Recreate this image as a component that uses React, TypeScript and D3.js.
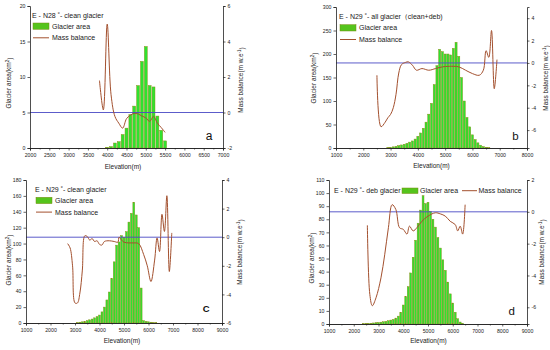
import React, { useEffect, useRef } from 'react';
import * as d3 from 'd3';

// ---- panel a: E - N28 clean glacier
const areaElevA = [4000, 4100, 4200, 4300, 4400, 4500, 4600, 4700, 4800, 4900, 5000, 5100, 5200, 5300, 5400, 5500];
const areaA = [0.1, 0.2, 0.7, 0.9, 1.9, 2.8, 4.7, 5.9, 8.8, 12.2, 14.3, 8.8, 8.6, 4.5, 2.5, 1.0];
const mbElevA = [3800, 3900, 4000, 4100, 4200, 4300, 4400, 4500, 4600, 4700, 4800, 4900, 5000, 5100, 5200, 5300, 5400, 5500];
const mbA = [1.8, 0.15, 4.98, 1.0, -0.22, -0.6, -0.88, -0.35, -0.15, -0.05, -0.08, -0.2, -0.3, -0.5, -0.22, -0.6, -0.85, -1.12];

// ---- panel b: E - N29 all glacier
const areaElevB = [2900, 3000, 3100, 3200, 3300, 3400, 3500, 3600, 3700, 3800, 3900, 4000, 4100, 4200, 4300, 4400, 4500, 4600, 4700, 4800, 4900, 5000, 5100, 5200, 5300, 5400, 5500, 5600, 5700, 5800, 5900, 6000, 6100, 6200, 6300, 6400, 6500, 6600];
const areaB = [1, 1.5, 2.5, 3.5, 5, 6.5, 8, 10, 12.5, 15, 19, 25, 32, 42, 55, 72, 95, 135, 175, 210, 205, 200, 200, 198, 212, 225, 195, 150, 100, 65, 45, 28, 18, 11, 6, 3, 1.5, 0.5];
const mbElevB = [2500, 2650, 2800, 2900, 3000, 3100, 3200, 3300, 3400, 3550, 3650, 3800, 3950, 4150, 4400, 4650, 4900, 5150, 5500, 5750, 6000, 6250, 6400, 6500, 6600, 6700, 6800, 6900];
const mbB = [-1.1, -5.7, -5.3, -4.9, -4.6, -4.0, -2.8, -0.9, -0.15, 0.05, 0.1, -0.2, -0.65, -0.5, -0.65, -0.5, -0.35, -0.3, -0.35, -0.65, -0.95, -1.1, -0.65, 1.1, 0.5, 2.9, -2.3, 0.3];

// ---- panel c: E - N29 clean glacier
const areaElevC = [3100, 3200, 3300, 3400, 3500, 3600, 3700, 3800, 3900, 4000, 4100, 4200, 4300, 4400, 4500, 4600, 4700, 4800, 4900, 5000, 5100, 5200, 5300, 5400, 5500, 5600, 5700, 5800, 5900, 6000, 6100, 6200, 6300];
const areaC = [0.5, 1, 1.5, 2, 3, 4, 5, 6.5, 8, 10, 14, 20, 29, 39, 56, 77, 98, 102, 110, 108, 115, 127, 138, 152, 136, 120, 44, 3, 2, 1.5, 1, 0.5, 0.3];
const mbElevC = [2700, 2800, 2900, 3000, 3100, 3200, 3300, 3400, 3500, 3600, 3700, 3800, 3900, 4000, 4100, 4200, 4400, 4600, 4750, 4800, 4900, 5000, 5200, 5400, 5600, 5800, 5950, 6100, 6250, 6350, 6450, 6550, 6650, 6750, 6850, 6950];
const mbC = [-0.45, -0.75, -2.0, -4.6, -4.6, -3.9, -2.3, 0.1, 0.05, -0.2, -0.1, -0.3, -0.25, -0.5, -0.55, -0.3, -0.25, -0.3, -0.35, 0.0, -0.2, -0.35, -0.4, -0.4, -0.45, -1.2, -2.0, -3.1, -1.6, -0.05, -1.0, 1.6, 0.4, 2.9, -2.4, 0.3];

// ---- panel d: E - N29 debris glacier
const areaElevD = [2400, 2500, 2600, 2700, 2800, 2900, 3000, 3100, 3200, 3300, 3400, 3500, 3600, 3700, 3800, 3900, 4000, 4100, 4200, 4300, 4400, 4500, 4600, 4700, 4800, 4900, 5000, 5100, 5200, 5300, 5400, 5500, 5600, 5700, 5800, 5900, 6000, 6100, 6200, 6300, 6400];
const areaD = [0.3, 0.4, 0.5, 0.6, 0.8, 1, 1.2, 1.4, 1.7, 2, 2.5, 3, 3.5, 4.5, 6, 9, 14.5, 21, 28.5, 39, 51, 64, 77, 87, 98, 92, 93, 86, 80, 74, 66, 58, 49, 41, 32, 23, 16, 9, 4, 1.5, 0.5];
const mbElevD = [2550, 2650, 2750, 2900, 3100, 3250, 3400, 3550, 3700, 3850, 4000, 4150, 4250, 4400, 4550, 4750, 5000, 5300, 5500, 5700, 5900, 6100, 6200, 6300, 6400, 6500];
const mbD = [-0.85, -5.2, -5.9, -5.4, -4.15, -2.7, -1.0, 0.45, 0.15, -1.0, -1.1, -1.4, -0.9, -1.2, -1.0, -0.6, -0.27, -0.06, -0.13, -0.27, -0.6, -0.8, -1.2, -0.9, -1.4, 0.45];

// ticks
const xTicksA = [2000, 2500, 3000, 3500, 4000, 4500, 5000, 5500, 6000, 6500, 7000];
const xTicksB = [1000, 2000, 3000, 4000, 5000, 6000, 7000, 8000];
const xTicksCD = [1000, 2000, 3000, 4000, 5000, 6000, 7000, 8000, 9000];
const areaTicksA = [0, 5, 10, 15, 20];
const areaTicksB = [0, 50, 100, 150, 200, 250, 300];
const areaTicksC = [0, 20, 40, 60, 80, 100, 120, 140, 160, 180];
const areaTicksD = [0, 10, 20, 30, 40, 50, 60, 70, 80, 90, 100, 110];
const mbTicksA = [-2, 0, 2, 4, 6];
const mbTicksB = [-6, -4, -2, 0, 2, 4];
const mbTicksC = [-6, -4, -2, 0, 2, 4];
const mbTicksD = [-6, -4, -2, 0, 2];

const titles = [
  'E - N28 ˚- clean glacier',
  'E - N29 ˚- all glacier（clean+deb)',
  'E - N29 ˚- clean glacier',
  'E - N29 ˚- deb glacier',
];
const letters = ['a', 'b', 'C', 'd'];

const FONT = '"Liberation Sans", Arial, sans-serif';
const BAR_FILL = '#2fe22f';
const BAR_STROKE = '#8c8c14';
const MB_COLOR = '#a3502e';
const ZERO_COLOR = '#4a4ac4';

const panels = [
  {
    left: 30, right: 223, top: 6, bottom: 148,
    xDomain: [2000, 7000], xTicks: xTicksA, minorStep: 250,
    areaDomain: [0, 20], areaTicks: areaTicksA,
    mbDomain: [-2, 6], mbTicks: mbTicksA,
    areaElev: areaElevA, area: areaA, mbElev: mbElevA, mb: mbA,
    title: titles[0], letter: letters[0], letterPos: [209, 140, 12, 'normal'],
    legend: { row: false, x: 32, y: 17.5 },
    leftTitle: [9, 83], rightTitle: [241, 80], xTitle: [123, 169],
  },
  {
    left: 336, right: 527, top: 7, bottom: 148,
    xDomain: [1000, 8000], xTicks: xTicksB, minorStep: 500,
    areaDomain: [0, 300], areaTicks: areaTicksB,
    mbDomain: [-7.6, 5], mbTicks: mbTicksB,
    areaElev: areaElevB, area: areaB, mbElev: mbElevB, mb: mbB,
    title: titles[1], letter: letters[1], letterPos: [515.5, 140, 11.5, 'normal'],
    legend: { row: false, x: 339, y: 19.2 },
    leftTitle: [314, 78], rightTitle: [546, 78], xTitle: [431.5, 167.5],
  },
  {
    left: 26, right: 222, top: 180, bottom: 323,
    xDomain: [1000, 9000], xTicks: xTicksCD, minorStep: 500,
    areaDomain: [0, 180], areaTicks: areaTicksC,
    mbDomain: [-6, 4], mbTicks: mbTicksC,
    areaElev: areaElevC, area: areaC, mbElev: mbElevC, mb: mbC,
    title: titles[2], letter: letters[2], letterPos: [206.3, 312.3, 9.5, 'bold'],
    legend: { row: false, x: 35, y: 191.8 },
    leftTitle: [9, 260], rightTitle: [239.5, 252], xTitle: [122, 343],
  },
  {
    left: 329, right: 527, top: 180, bottom: 324,
    xDomain: [1000, 9000], xTicks: xTicksCD, minorStep: 500,
    areaDomain: [0, 110], areaTicks: areaTicksD,
    mbDomain: [-7.05, 2], mbTicks: mbTicksD,
    areaElev: areaElevD, area: areaD, mbElev: mbElevD, mb: mbD,
    title: titles[3], letter: letters[3], letterPos: [511.7, 315, 11.5, 'normal'],
    legend: { row: true, x: 334, y: 193.2 },
    leftTitle: [312, 258], rightTitle: [542, 252], xTitle: [428.5, 342.5],
  },
];

function styleAxis(g: any) {
  g.attr('font-family', FONT).attr('font-size', 5.2);
  g.select('.domain').attr('stroke', '#222').attr('stroke-width', 0.8);
  g.selectAll('.tick line').attr('stroke', '#222').attr('stroke-width', 0.7);
  g.selectAll('.tick text').attr('fill', '#222');
}

function drawLegend(g: any, p: any) {
  const L = p.legend;
  const t = g.append('g').attr('font-family', FONT).attr('font-size', 7).attr('fill', '#222');
  if (!L.row) {
    t.append('text').attr('x', L.x).attr('y', L.y).text(p.title);
    t.append('rect').attr('x', L.x + 1).attr('y', L.y + 5.5).attr('width', 16).attr('height', 6.3)
      .attr('fill', '#55c41c').attr('stroke', '#7a8a10').attr('stroke-width', 0.5);
    t.append('text').attr('x', L.x + 20).attr('y', L.y + 11.2).text('Glacier area');
    t.append('line').attr('x1', L.x + 1).attr('x2', L.x + 17).attr('y1', L.y + 20.3).attr('y2', L.y + 20.3)
      .attr('stroke', MB_COLOR).attr('stroke-width', 1);
    t.append('text').attr('x', L.x + 20).attr('y', L.y + 22.8).text('Mass balance');
  } else {
    t.append('text').attr('x', L.x).attr('y', L.y).text(p.title);
    t.append('rect').attr('x', L.x + 68).attr('y', L.y - 5.2).attr('width', 16).attr('height', 5.5)
      .attr('fill', '#55c41c').attr('stroke', '#7a8a10').attr('stroke-width', 0.5);
    t.append('text').attr('x', L.x + 86).attr('y', L.y).text('Glacier area');
    t.append('line').attr('x1', L.x + 128).attr('x2', L.x + 143).attr('y1', L.y - 2.5).attr('y2', L.y - 2.5)
      .attr('stroke', MB_COLOR).attr('stroke-width', 1);
    t.append('text').attr('x', L.x + 144.5).attr('y', L.y).text('Mass balance');
  }
}

function drawPanel(svg: any, p: any) {
  const g = svg.append('g');
  const x = d3.scaleLinear().domain(p.xDomain).range([p.left, p.right]);
  const y = d3.scaleLinear().domain(p.areaDomain).range([p.bottom, p.top]);
  const y2 = d3.scaleLinear().domain(p.mbDomain).range([p.bottom, p.top]);
  const bw = x(p.xDomain[0] + 100) - x(p.xDomain[0]);

  // bars
  g.selectAll('rect.bar')
    .data(d3.zip(p.areaElev, p.area))
    .enter().append('rect')
    .attr('class', 'bar')
    .attr('x', (d: any) => x(d[0]) - bw * 0.38)
    .attr('width', bw * 0.76)
    .attr('y', (d: any) => y(d[1]))
    .attr('height', (d: any) => p.bottom - y(d[1]))
    .attr('fill', BAR_FILL)
    .attr('stroke', BAR_STROKE)
    .attr('stroke-width', 0.45);

  // zero line of mass balance
  g.append('line')
    .attr('x1', p.left).attr('x2', p.right)
    .attr('y1', y2(0)).attr('y2', y2(0))
    .attr('stroke', ZERO_COLOR).attr('stroke-width', 0.9);

  // mass balance line
  const line = d3.line<any>()
    .x((d) => x(d[0]))
    .y((d) => y2(d[1]))
    .curve(d3.curveCatmullRom.alpha(0.5));
  g.append('path')
    .datum(d3.zip(p.mbElev, p.mb))
    .attr('d', line)
    .attr('fill', 'none')
    .attr('stroke', MB_COLOR)
    .attr('stroke-width', 1);

  // axes
  const fmt = (d: any) => String(d);
  const minorX = d3.range(p.xDomain[0], p.xDomain[1] + 1, p.minorStep).filter((v) => !p.xTicks.includes(v));
  const ax = g.append('g').attr('transform', `translate(0,${p.bottom})`)
    .call(d3.axisBottom(x).tickValues(p.xTicks).tickFormat(fmt).tickSize(2.5).tickPadding(2.5));
  styleAxis(ax);
  const axm = g.append('g').attr('transform', `translate(0,${p.bottom})`)
    .call(d3.axisBottom(x).tickValues(minorX).tickFormat(() => '').tickSize(1.5));
  styleAxis(axm);

  const ay = g.append('g').attr('transform', `translate(${p.left},0)`)
    .call(d3.axisLeft(y).tickValues(p.areaTicks).tickFormat(fmt).tickSize(2.5).tickPadding(2));
  styleAxis(ay);
  const ay2 = g.append('g').attr('transform', `translate(${p.right},0)`)
    .call(d3.axisRight(y2).tickValues(p.mbTicks).tickFormat(fmt).tickSize(2.5).tickPadding(2));
  styleAxis(ay2);

  // axis titles
  const tt = g.append('g').attr('font-family', FONT).attr('font-size', 6.5).attr('fill', '#222');
  const lt = tt.append('text')
    .attr('transform', `translate(${p.leftTitle[0]},${p.leftTitle[1]}) rotate(-90)`)
    .attr('text-anchor', 'middle').attr('dy', '0.35em');
  lt.append('tspan').text('Glacier area(km');
  lt.append('tspan').attr('dy', '-0.4em').attr('font-size', 4.5).text('2');
  lt.append('tspan').attr('dy', '0.4em').text(')');

  const rt = tt.append('text')
    .attr('transform', `translate(${p.rightTitle[0]},${p.rightTitle[1]}) rotate(-90)`)
    .attr('text-anchor', 'middle').attr('dy', '0.35em');
  rt.append('tspan').text('Mass balance(m w.e');
  rt.append('tspan').attr('dy', '-0.4em').attr('font-size', 4.5).text('-1');
  rt.append('tspan').attr('dy', '0.4em').text(')');

  tt.append('text').attr('x', p.xTitle[0]).attr('y', p.xTitle[1])
    .attr('text-anchor', 'middle').text('Elevation(m)');

  // panel letter
  g.append('text')
    .attr('x', p.letterPos[0]).attr('y', p.letterPos[1])
    .attr('text-anchor', 'middle')
    .attr('font-family', FONT)
    .attr('font-size', p.letterPos[2])
    .attr('font-weight', p.letterPos[3])
    .attr('fill', '#111')
    .text(p.letter);

  drawLegend(g, p);
}

const App = () => {
  const chartRef = useRef<SVGSVGElement>(null);

  useEffect(() => {
    if (chartRef.current) {
      const svg = d3.select(chartRef.current);
      svg.selectAll('*').remove();
      panels.forEach((p) => drawPanel(svg, p));
    }
  }, []);

  return (
    <svg
      ref={chartRef}
      width="550"
      height="350"
      style={{ position: 'absolute', left: 0, top: 0, background: '#fff' }}
    ></svg>
  );
};

export default App;
